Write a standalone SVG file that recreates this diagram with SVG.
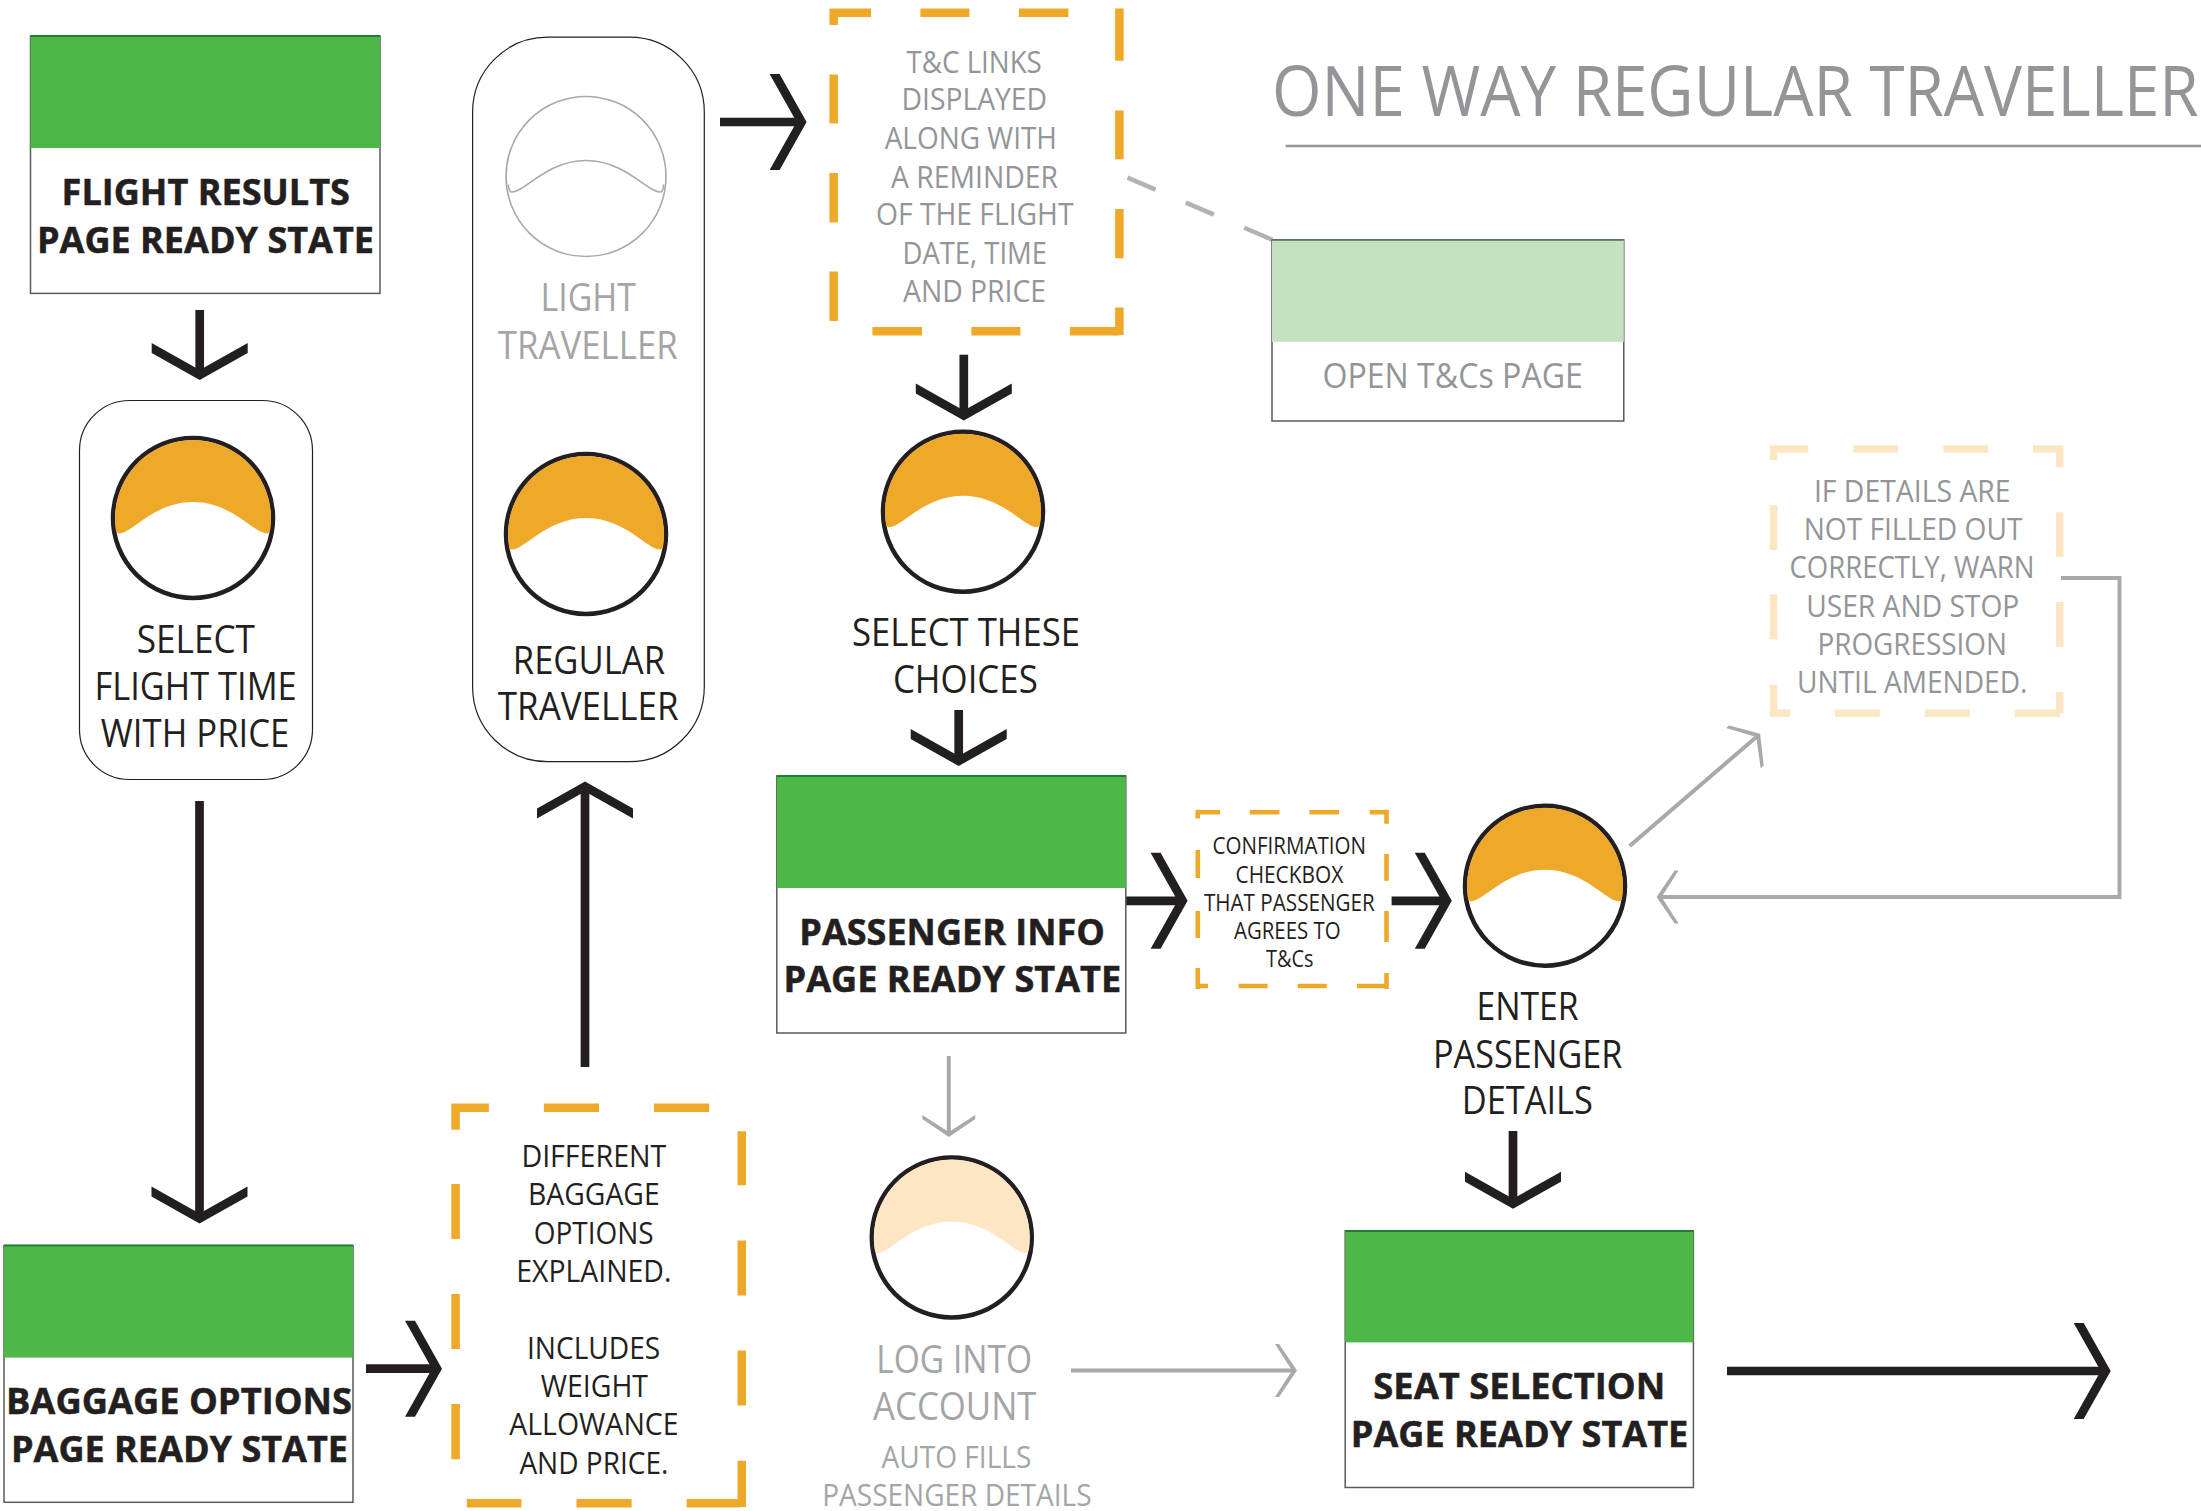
<svg xmlns="http://www.w3.org/2000/svg" xmlns:xlink="http://www.w3.org/1999/xlink" width="2201" height="1511" viewBox="0 0 2201 1511">
<style>
text{font-family:"Open Sans","Noto Sans","Liberation Sans",sans-serif;}
.bold{font-size:36px;font-weight:700;fill:#231f20;stroke:#231f20;stroke-width:.5;}
.lbl{font-size:38.5px;fill:#231f20;}
.lblg{font-size:38.5px;fill:#a3a5a7;}
.gr29{font-size:30.5px;fill:#939598;}
.bk29{font-size:30.5px;fill:#231f20;}
.sm{font-size:23px;fill:#231f20;}
.page{fill:#fff;stroke:#58595b;stroke-width:1.5;}
.hdr{fill:#4db848;}
.hdrtop{stroke:#1f7f2e;stroke-width:2;}
.hdrp{fill:#c5e2c0;}
.pill{fill:#fff;stroke:#231f20;stroke-width:1.2;}
.ring{fill:#fff;stroke:#231f20;stroke-width:4.5;}
.org{fill:#eea92b;}
.pale{fill:#fce6c4;}
.dash{fill:none;stroke:#eea92b;stroke-width:8.5;}
.dashp{fill:none;stroke:#fce6c4;stroke-width:7.6;}
.blk{stroke:#231f20;stroke-width:8.7;fill:none;marker-end:url(#hb);}
.gry{stroke:#a7a9ac;stroke-width:4;fill:none;marker-end:url(#hg);}
</style>
<defs>
<marker id="hb" markerUnits="userSpaceOnUse" viewBox="-40 -50 42 100" refX="-5" refY="0" markerWidth="42" markerHeight="100" orient="auto" overflow="visible">
<polygon points="0,0 -27,-48 -37,-48 -10,0 -37,48 -27,48" fill="#231f20"/>
</marker>
<marker id="hg" markerUnits="userSpaceOnUse" viewBox="-30 -30 32 60" refX="-3" refY="0" markerWidth="32" markerHeight="60" orient="auto" overflow="visible">
<polygon points="0,0 -18,-26.5 -22,-26.5 -5,0 -22,26.5 -18,26.5" fill="#a7a9ac"/>
</marker>
<path id="dome" d="M-75,15.5C-62,17 -40,-16 0,-16C40,-16 62,17 75,15.5Q77.5,14 77.59,8A78,78 0 1 0 -77.59,8Q-77.5,14 -75,15.5Z"/>
</defs>
<rect width="2201" height="1511" fill="#fff"/>

<g id="connectors">
<line class="blk" x1="199.7" y1="310" x2="199.7" y2="375"/>
<line class="blk" x1="199.5" y1="801" x2="199.5" y2="1218.6"/>
<line class="blk" x1="366" y1="1368.7" x2="437" y2="1368.7"/>
<line class="blk" x1="585" y1="1067" x2="585" y2="786.5"/>
<line class="blk" x1="720" y1="122" x2="801.6" y2="122"/>
<line class="blk" x1="963.8" y1="354.7" x2="963.8" y2="415.4"/>
<line class="blk" x1="958.7" y1="710" x2="958.7" y2="761"/>
<line class="blk" x1="1126" y1="900.8" x2="1182.6" y2="900.8"/>
<line class="blk" x1="1391.6" y1="900.8" x2="1446.8" y2="900.8"/>
<line class="blk" x1="1513" y1="1131" x2="1513" y2="1203.7"/>
<line class="blk" x1="1727" y1="1371" x2="2105.7" y2="1371"/>
<line class="gry" x1="1071" y1="1370.6" x2="1294" y2="1370.6"/>
<line class="gry" x1="948.8" y1="1056" x2="948.8" y2="1134"/>
<line class="gry" x1="1629.6" y1="846" x2="1757.8" y2="735.7"/>
<path class="gry" d="M2061,578H2119.5V897H1659.6"/>
<line x1="1127.5" y1="177.6" x2="1272.4" y2="239.8" stroke="#b1b3b3" stroke-width="4.5" stroke-dasharray="30.5 33"/>
</g>

<g id="title">
<text transform="translate(1272 116) scale(.88 1)" font-size="70" fill="#939598" textLength="1053" lengthAdjust="spacingAndGlyphs">ONE WAY REGULAR TRAVELLER</text>
<line x1="1285.7" y1="146" x2="2201" y2="146" stroke="#939598" stroke-width="2.6"/>
</g>

<g id="flight-results">
<rect class="page" x="30.5" y="36" width="349.5" height="257.4"/>
<rect class="hdr" x="30.5" y="36" width="349.5" height="112"/>
<line class="hdrtop" x1="30.5" y1="36" x2="380" y2="36"/>
<text class="bold" x="61.6" y="205" textLength="288.4" lengthAdjust="spacingAndGlyphs">FLIGHT RESULTS</text>
<text class="bold" x="37" y="253" textLength="337" lengthAdjust="spacingAndGlyphs">PAGE READY STATE</text>
</g>

<g id="select-flight-time">
<rect class="pill" x="79.5" y="400.5" width="233" height="379" rx="50" ry="50"/>
<circle class="ring" cx="193" cy="518" r="80"/>
<use xlink:href="#dome" href="#dome" class="org" transform="translate(193 518)"/>
<text class="lbl" x="136.7" y="653" textLength="118.3" lengthAdjust="spacingAndGlyphs">SELECT</text>
<text class="lbl" x="94.5" y="700" textLength="202.2" lengthAdjust="spacingAndGlyphs">FLIGHT TIME</text>
<text class="lbl" x="100.8" y="747" textLength="188.6" lengthAdjust="spacingAndGlyphs">WITH PRICE</text>
</g>

<g id="traveller-choice">
<rect class="pill" x="472.6" y="37.2" width="231.7" height="724.5" rx="75" ry="75"/>
<circle cx="586" cy="176.5" r="80" fill="#fff" stroke="#a7a9ac" stroke-width="1.6"/>
<path d="M-75,15.5C-62,17 -40,-16 0,-16C40,-16 62,17 75,15.5Q77.5,14 77.59,8" transform="translate(586 176.5)" fill="none" stroke="#a7a9ac" stroke-width="1.6"/>
<path d="M-75,15.5Q-77.5,14 -77.59,8" transform="translate(586 176.5)" fill="none" stroke="#a7a9ac" stroke-width="1.6"/>
<text class="lblg" x="540.5" y="311" textLength="95.5" lengthAdjust="spacingAndGlyphs">LIGHT</text>
<text class="lblg" x="497.8" y="359" textLength="180" lengthAdjust="spacingAndGlyphs">TRAVELLER</text>
<circle class="ring" cx="586" cy="534" r="80"/>
<use xlink:href="#dome" href="#dome" class="org" transform="translate(586 534)"/>
<text class="lbl" x="512.8" y="673.5" textLength="152.2" lengthAdjust="spacingAndGlyphs">REGULAR</text>
<text class="lbl" x="497.8" y="720" textLength="180.8" lengthAdjust="spacingAndGlyphs">TRAVELLER</text>
</g>

<g id="tc-links-note">
<path class="dash" d="M830,12.7H871M920.4,12.7H969.4M1018.9,12.7H1068.4M833.7,8.5V24.9M833.7,74.6V123.4M833.7,173V222.4M833.7,271.6V320.9M1119.4,8.5V60.7M1119.4,110.4V159.2M1119.4,209V258.2M1119.4,307.5V335M872.4,331.3H922M971.4,331.3H1020.4M1069.9,331.3H1119.4"/>
<text class="gr29" x="906.6" y="72.6" textLength="135.2" lengthAdjust="spacingAndGlyphs">T&amp;C LINKS</text>
<text class="gr29" x="901.5" y="110.4" textLength="145.5" lengthAdjust="spacingAndGlyphs">DISPLAYED</text>
<text class="gr29" x="884.7" y="149" textLength="172.3" lengthAdjust="spacingAndGlyphs">ALONG WITH</text>
<text class="gr29" x="891" y="187.6" textLength="167" lengthAdjust="spacingAndGlyphs">A REMINDER</text>
<text class="gr29" x="876" y="225.4" textLength="197.5" lengthAdjust="spacingAndGlyphs">OF THE FLIGHT</text>
<text class="gr29" x="902.5" y="264" textLength="144.5" lengthAdjust="spacingAndGlyphs">DATE, TIME</text>
<text class="gr29" x="903" y="302" textLength="143" lengthAdjust="spacingAndGlyphs">AND PRICE</text>
</g>

<g id="open-tcs-page">
<rect class="page" x="1272" y="240" width="351.8" height="181"/>
<rect class="hdrp" x="1272" y="240" width="351.8" height="101.8"/>
<line x1="1272" y1="240" x2="1623.8" y2="240" stroke="#58695b" stroke-width="1.5"/>
<text x="1322.4" y="387.8" font-size="35" fill="#939598" textLength="260.6" lengthAdjust="spacingAndGlyphs">OPEN T&amp;Cs PAGE</text>
</g>

<g id="select-these-choices">
<circle class="ring" cx="963" cy="511.7" r="80"/>
<use xlink:href="#dome" href="#dome" class="org" transform="translate(963 511.7)"/>
<text class="lbl" x="852" y="645.8" textLength="228" lengthAdjust="spacingAndGlyphs">SELECT THESE</text>
<text class="lbl" x="892.9" y="693" textLength="144.9" lengthAdjust="spacingAndGlyphs">CHOICES</text>
</g>

<g id="details-warning-note">
<path class="dashp" d="M1770.5,449H1808.3M1853.2,449H1898.2M1943.2,449H1988.2M2033,449H2063.3M1773.5,445.4V460.2M1773.5,505V550M1773.5,594.4V639.3M1773.5,684.7V716.8M2059.7,445.4V467.3M2059.7,512.2V557M2059.7,602V647M2059.7,691.8V713.3M1770.5,713.3H1790M1834.9,713.3H1879.8M1924.8,713.3H1969.8M2014.7,713.3H2059.7"/>
<text class="gr29" x="1813.9" y="501.5" textLength="196.7" lengthAdjust="spacingAndGlyphs">IF DETAILS ARE</text>
<text class="gr29" x="1803.7" y="539.8" textLength="218.7" lengthAdjust="spacingAndGlyphs">NOT FILLED OUT</text>
<text class="gr29" x="1789.4" y="578" textLength="245.2" lengthAdjust="spacingAndGlyphs">CORRECTLY, WARN</text>
<text class="gr29" x="1806.2" y="616.8" textLength="213.1" lengthAdjust="spacingAndGlyphs">USER AND STOP</text>
<text class="gr29" x="1817.5" y="655" textLength="189.5" lengthAdjust="spacingAndGlyphs">PROGRESSION</text>
<text class="gr29" x="1797" y="692.9" textLength="230.5" lengthAdjust="spacingAndGlyphs">UNTIL AMENDED.</text>
</g>

<g id="passenger-info">
<rect class="page" x="776.8" y="776" width="349" height="257"/>
<rect class="hdr" x="776.8" y="776" width="349" height="112"/>
<line class="hdrtop" x1="776.8" y1="776" x2="1125.8" y2="776"/>
<text class="bold" x="799.3" y="944.9" textLength="305.6" lengthAdjust="spacingAndGlyphs">PASSENGER INFO</text>
<text class="bold" x="783.5" y="992.3" textLength="337.7" lengthAdjust="spacingAndGlyphs">PAGE READY STATE</text>
</g>

<g id="confirmation-note">
<path class="dash" style="stroke-width:4.6" d="M1195.7,812.2H1220.2M1249.8,812.2H1279.4M1309.5,812.2H1339M1369.7,812.2H1388.6M1197.8,809.8V818.4M1197.8,850V878M1197.8,911V938M1197.8,968V989M1386.5,809.8V823.7M1386.5,853.9V880.7M1386.5,910.9V942M1386.5,973V989M1195.7,986H1208M1238.6,986H1267.7M1297.8,986H1326.8M1357,986H1388.6"/>
<text class="sm" x="1212.6" y="854.3" textLength="153.4" lengthAdjust="spacingAndGlyphs">CONFIRMATION</text>
<text class="sm" x="1235.5" y="883" textLength="107.7" lengthAdjust="spacingAndGlyphs">CHECKBOX</text>
<text class="sm" x="1203.9" y="911.3" textLength="170.9" lengthAdjust="spacingAndGlyphs">THAT PASSENGER</text>
<text class="sm" x="1234" y="939" textLength="106.6" lengthAdjust="spacingAndGlyphs">AGREES TO</text>
<text class="sm" x="1266" y="967.4" textLength="47.6" lengthAdjust="spacingAndGlyphs">T&amp;Cs</text>
</g>

<g id="enter-passenger-details">
<circle class="ring" cx="1545" cy="885.7" r="80"/>
<use xlink:href="#dome" href="#dome" class="org" transform="translate(1545 885.7)"/>
<text class="lbl" x="1476.5" y="1020" textLength="102.1" lengthAdjust="spacingAndGlyphs">ENTER</text>
<text class="lbl" x="1433" y="1067.5" textLength="189.4" lengthAdjust="spacingAndGlyphs">PASSENGER</text>
<text class="lbl" x="1461.7" y="1114.4" textLength="131.2" lengthAdjust="spacingAndGlyphs">DETAILS</text>
</g>

<g id="log-into-account">
<circle class="ring" cx="951.8" cy="1237.5" r="80"/>
<use xlink:href="#dome" href="#dome" class="pale" transform="translate(951.8 1237.5)"/>
<text class="lblg" x="876.3" y="1372.5" textLength="155.7" lengthAdjust="spacingAndGlyphs">LOG INTO</text>
<text class="lblg" x="873" y="1419.5" textLength="163.5" lengthAdjust="spacingAndGlyphs">ACCOUNT</text>
<text x="881.4" y="1467.9" font-size="30.5" fill="#a3a5a7" textLength="150" lengthAdjust="spacingAndGlyphs">AUTO FILLS</text>
<text x="822.2" y="1505.7" font-size="30.5" fill="#a3a5a7" textLength="269.4" lengthAdjust="spacingAndGlyphs">PASSENGER DETAILS</text>
</g>

<g id="baggage-options">
<rect class="page" x="4" y="1245.6" width="349" height="256.7"/>
<rect class="hdr" x="4" y="1245.6" width="349" height="112"/>
<line class="hdrtop" x1="4" y1="1245.6" x2="353" y2="1245.6"/>
<text class="bold" x="6" y="1413.7" textLength="346" lengthAdjust="spacingAndGlyphs">BAGGAGE OPTIONS</text>
<text class="bold" x="11" y="1461.6" textLength="337" lengthAdjust="spacingAndGlyphs">PAGE READY STATE</text>
</g>

<g id="baggage-note">
<path class="dash" d="M451.5,1107.7H488.8M543.9,1107.7H599M654,1107.7H709.2M455.6,1103.4V1129.7M455.6,1183.9V1238.9M455.6,1294V1349M455.6,1404V1459.2M741.8,1131.2V1185.3M741.8,1240.4V1295.4M741.8,1350.5V1405.6M741.8,1460.7V1507M466.8,1503.3H521.4M576.5,1503.3H631.6M686.7,1503.3H739.8"/>
<text class="bk29" x="521.4" y="1167" textLength="144.9" lengthAdjust="spacingAndGlyphs">DIFFERENT</text>
<text class="bk29" x="528" y="1205" textLength="131.7" lengthAdjust="spacingAndGlyphs">BAGGAGE</text>
<text class="bk29" x="533.7" y="1243.7" textLength="119.9" lengthAdjust="spacingAndGlyphs">OPTIONS</text>
<text class="bk29" x="516.3" y="1282" textLength="155.1" lengthAdjust="spacingAndGlyphs">EXPLAINED.</text>
<text class="bk29" x="527" y="1358.7" textLength="133.2" lengthAdjust="spacingAndGlyphs">INCLUDES</text>
<text class="bk29" x="540.8" y="1397" textLength="107.2" lengthAdjust="spacingAndGlyphs">WEIGHT</text>
<text class="bk29" x="509.2" y="1435" textLength="169.4" lengthAdjust="spacingAndGlyphs">ALLOWANCE</text>
<text class="bk29" x="519.4" y="1473.6" textLength="149" lengthAdjust="spacingAndGlyphs">AND PRICE.</text>
</g>

<g id="seat-selection">
<rect class="page" x="1345.2" y="1231" width="348.2" height="256.5"/>
<rect class="hdr" x="1345.2" y="1231" width="348.2" height="111.4"/>
<line class="hdrtop" x1="1345.2" y1="1231" x2="1693.4" y2="1231"/>
<text class="bold" x="1373.3" y="1399" textLength="292" lengthAdjust="spacingAndGlyphs">SEAT SELECTION</text>
<text class="bold" x="1350.8" y="1447" textLength="337.5" lengthAdjust="spacingAndGlyphs">PAGE READY STATE</text>
</g>
</svg>
